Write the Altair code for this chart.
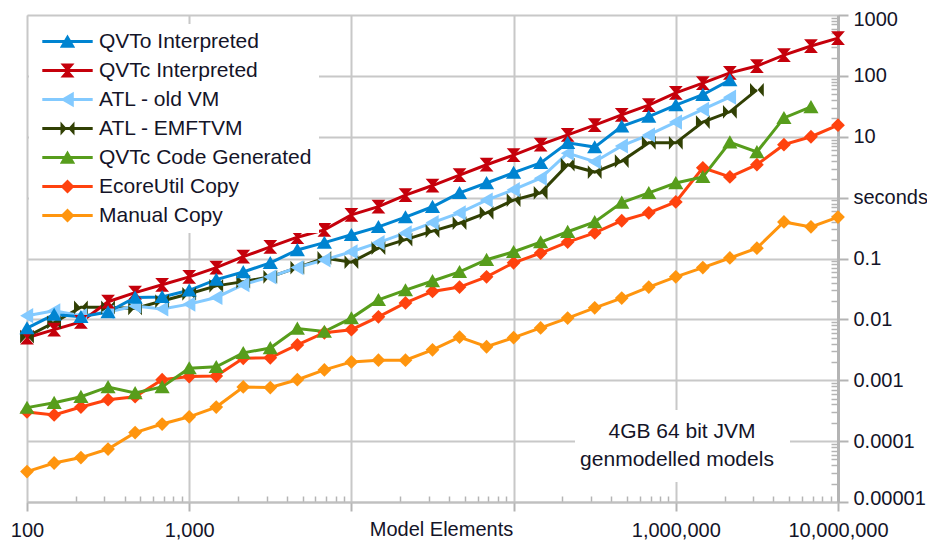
import altair as alt
import pandas as pd

# ---------------- data ----------------
model_elements = [100, 147, 215, 316, 464, 681, 1000, 1468, 2154, 3162, 4642, 6813,
                  10000, 14678, 21544, 31623, 46416, 68129, 100000, 146780, 215443,
                  316228, 464159, 681292, 1000000, 1467799, 2154435, 3162278,
                  4641589, 6812921, 10000000]

series_names = ["QVTo Interpreted", "QVTc Interpreted", "ATL - old VM", "ATL - EMFTVM",
                "QVTc Code Generated", "EcoreUtil Copy", "Manual Copy"]
series_colors = ["#0084d1", "#c5000b", "#83caff", "#314004", "#579d1c", "#ff420e", "#ff950e"]

qvto_interpreted = [0.0072, 0.0120, 0.0110, 0.0132, 0.0229, 0.0234, 0.030, 0.045, 0.060,
                    0.085, 0.138, 0.182, 0.245, 0.331, 0.479, 0.708, 1.20, 1.74, 2.57,
                    3.72, 7.94, 6.76, 14.8, 21.4, 33.1, 49.0, 85.1]
qvtc_interpreted = [0.0050, 0.0068, 0.0091, 0.0195, 0.0275, 0.037, 0.050, 0.071, 0.107,
                    0.155, 0.224, 0.295, 0.52, 0.71, 1.10, 1.58, 2.34, 3.47, 5.0, 7.4,
                    10.7, 15.5, 22.9, 33.1, 52.5, 75.9, 112, 145, 219, 309, 417]
atl_old_vm = [0.0115, 0.0138, 0.0115, 0.0132, 0.0166, 0.0148, 0.0178, 0.0229, 0.0372,
              0.050, 0.071, 0.095, 0.129, 0.182, 0.263, 0.389, 0.562, 0.912, 1.35, 2.09,
              5.37, 3.89, 7.08, 10.7, 17.4, 28.2, 44.7]
atl_emftvm = [0.0052, 0.0089, 0.0158, 0.0158, 0.0151, 0.0200, 0.0263, 0.0355, 0.0417,
              0.050, 0.071, 0.102, 0.087, 0.148, 0.204, 0.282, 0.380, 0.562, 0.912, 1.20,
              3.47, 2.63, 3.98, 7.94, 7.94, 17.4, 25.7, 58.9]
qvtc_code_generated = [0.000355, 0.000427, 0.000537, 0.000776, 0.000617, 0.000776, 0.00158,
                       0.00166, 0.00282, 0.00339, 0.00708, 0.00631, 0.0105, 0.0209, 0.0302,
                       0.0427, 0.0603, 0.0955, 0.129, 0.186, 0.275, 0.398, 0.832, 1.20,
                       1.74, 2.19, 8.13, 5.62, 20.4, 30.9]
ecoreutil_copy = [0.000302, 0.000269, 0.000363, 0.000479, 0.000537, 0.00102, 0.00115, 0.00117,
                  0.00229, 0.00234, 0.00380, 0.00603, 0.00676, 0.0110, 0.0186, 0.0288, 0.0339,
                  0.050, 0.085, 0.123, 0.186, 0.263, 0.417, 0.562, 0.851, 3.09, 2.19, 3.47,
                  7.41, 10.0, 15.5]
manual_copy = [0.0000316, 0.0000437, 0.0000537, 0.0000741, 0.000138, 0.000191, 0.000251,
               0.000363, 0.000776, 0.000759, 0.00102, 0.00148, 0.00200, 0.00214, 0.00214,
               0.00316, 0.00513, 0.00355, 0.00501, 0.00724, 0.0105, 0.0155, 0.0224, 0.0339,
               0.050, 0.071, 0.102, 0.148, 0.398, 0.331, 0.479]

x_tick_values = [100, 1000, 10000, 100000, 1000000, 10000000]
x_tick_labels = ["100", "1,000", "", "", "1,000,000", "10,000,000"]
y_tick_values = [1000, 100, 10, 1, 0.1, 0.01, 0.001, 0.0001, 0.00001]
y_tick_labels = ["1000", "100", "10", "seconds", "0.1", "0.01", "0.001", "0.0001", "0.00001"]
note_lines = ["4GB 64 bit JVM", "genmodelled models"]

series_values = [qvto_interpreted, qvtc_interpreted, atl_old_vm, atl_emftvm,
                 qvtc_code_generated, ecoreutil_copy, manual_copy]

# drawing order (back to front)
draw_order = [6, 5, 4, 3, 2, 1, 0]
rows = []
for rank, i in enumerate(draw_order):
    for x, v in zip(model_elements, series_values[i]):
        rows.append({"series": series_names[i], "elements": x, "seconds": v, "z": rank})
df = pd.DataFrame(rows)

# ---------------- marker shapes ----------------
tri_up = "M0,-1L1.1,0.9L-1.1,0.9Z"
hourglass = "M-1,-1L1,-1L0.15,0L1,1L-1,1L-0.15,0Z"
tri_left = "M-1,0L0.9,-1.1L0.9,1.1Z"
bowtie = "M-1,-1L-0.1,0L-1,1Z M1,-1L1,1L0.1,0Z"
diamond = "M0,-1L1,0L0,1L-1,0Z"
marker_paths = [tri_up, hourglass, tri_left, bowtie, tri_up, diamond, diamond]
bar = "M-3.6,-0.2H3.6V0.2H-3.6Z"
legend_paths = [bar + " " + p for p in marker_paths]

FONT = "Liberation Sans"
TXT = "#141428"
GRID = "#c8c8c8"

legend = alt.Legend(
    title=None, orient="none", legendX=2, legendY=9,
    fillColor="white", padding=7, labelFontSize=21, labelFont=FONT, labelColor=TXT,
    labelLimit=400, symbolSize=196, symbolOffset=21, labelOffset=21, rowPadding=7,
    symbolStrokeWidth=0, symbolOpacity=1,
)

x_scale = alt.Scale(type="log", domain=[100, 10000000], nice=False)
y_scale = alt.Scale(type="log", domain=[0.00001, 1000], nice=False)
color_scale = alt.Scale(domain=series_names, range=series_colors)

x_label_expr = " : ".join(
    f"datum.value == {v} ? '{l}'" for v, l in zip(x_tick_values, x_tick_labels)) + " : ''"
y_label_expr = " : ".join(
    f"abs(datum.value - {v}) < {v} * 0.001 ? '{l}'" for v, l in zip(y_tick_values, y_tick_labels)) + " : ''"

x_minor = [m * d for d in [100, 1000, 10000, 100000, 1000000] for m in range(2, 10)]
y_minor = [m * d for d in [0.00001, 0.0001, 0.001, 0.01, 0.1, 1, 10, 100] for m in range(2, 10)]

main_x_axis = alt.Axis(
    orient="bottom", values=x_tick_values, labelExpr=x_label_expr, grid=True,
    gridColor=GRID, gridWidth=2, tickSize=9, tickColor="#b4b4b4", tickWidth=2,
    domainColor="#c0c0c0", domainWidth=2, labelFontSize=20, labelFont=FONT,
    labelColor=TXT, labelPadding=9, labelFlush=False, labelOverlap=False,
    title="Model Elements", titleFont=FONT, titleFontSize=20, titleFontWeight="normal",
    titleColor=TXT, titleX=414, titleY=33, titleBaseline="alphabetic")
main_y_axis = alt.Axis(
    orient="right", values=y_tick_values, labelExpr=y_label_expr, grid=True,
    gridColor=GRID, gridWidth=2, tickSize=10, tickColor="#b4b4b4", tickWidth=2,
    domainColor="#b4b4b4", domainWidth=3, labelFontSize=20, labelFont=FONT,
    labelColor=TXT, labelPadding=5, labelFlush=True, labelFlushOffset=6,
    labelOverlap=False, title=None)
minor_x_axis = alt.Axis(
    orient="bottom", values=x_minor, offset=-6, tickSize=6, tickColor="#b4b4b4",
    tickWidth=1.5, labels=False, domain=False, grid=False, title=None)
minor_y_axis = alt.Axis(
    orient="right", values=y_minor, offset=-7, tickSize=7, tickColor="#b4b4b4",
    tickWidth=1.5, labels=False, domain=False, grid=False, title=None)

note_box = alt.Chart().mark_rect(fill="white").encode(
    x=alt.value(548), x2=alt.value(763), y=alt.value(395), y2=alt.value(467))

lines = alt.Chart(df).mark_line(strokeWidth=3).encode(
    x=alt.X("elements:Q", scale=x_scale, axis=minor_x_axis),
    y=alt.Y("seconds:Q", scale=y_scale, axis=minor_y_axis),
    color=alt.Color("series:N", scale=color_scale, legend=None),
    detail="series:N", order="elements:Q")

points = alt.Chart(df).mark_point(filled=True, size=190, opacity=1, strokeWidth=0).encode(
    x=alt.X("elements:Q", scale=x_scale, axis=main_x_axis),
    y=alt.Y("seconds:Q", scale=y_scale, axis=main_y_axis),
    color=alt.Color("series:N", scale=color_scale, legend=None),
    shape=alt.Shape("series:N", scale=alt.Scale(domain=series_names, range=marker_paths),
                    legend=None),
    order="z:Q")

# invisible layer that only carries the legend (line + marker symbols)
legend_layer = alt.Chart(df).mark_point(filled=True, opacity=0, strokeWidth=0).encode(
    x=alt.X("elements:Q", scale=x_scale, axis=None),
    y=alt.Y("seconds:Q", scale=y_scale, axis=None),
    color=alt.Color("series:N", scale=color_scale, legend=legend),
    shape=alt.Shape("series:N", scale=alt.Scale(domain=series_names, range=legend_paths),
                    legend=legend))

note1 = alt.Chart().mark_text(font=FONT, fontSize=21, color=TXT, align="center",
                              baseline="middle").encode(
    x=alt.value(655), y=alt.value(417), text=alt.value(note_lines[0]))
note2 = alt.Chart().mark_text(font=FONT, fontSize=21, color=TXT, align="center",
                              baseline="middle").encode(
    x=alt.value(650), y=alt.value(445), text=alt.value(note_lines[1]))

chart = alt.layer(note_box, lines, points, legend_layer, note1, note2).resolve_axis(
    x="independent", y="independent"
).resolve_scale(
    color="independent", shape="independent"
).properties(
    width=811, height=487,
    autosize=alt.AutoSizeParams(type="none"),
    padding={"left": 19, "top": 7, "right": 89, "bottom": 38},
).configure_view(stroke=GRID, strokeWidth=2).configure(background="white")

chart.save("out.html", embed_options={"renderer": "svg", "actions": False})
